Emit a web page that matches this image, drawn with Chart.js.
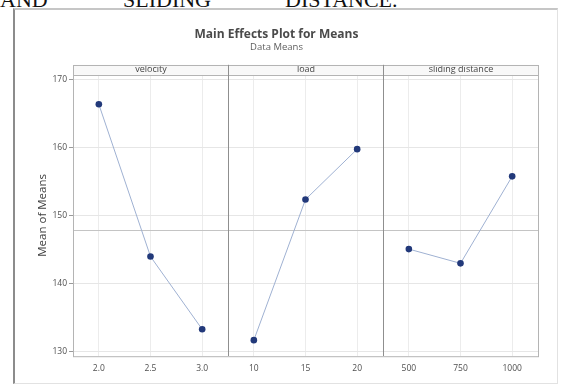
<!DOCTYPE html>
<html>
<head>
<meta charset="utf-8">
<script src="https://cdn.jsdelivr.net/npm/chart.js@4.4.1/dist/chart.umd.min.js"></script>
<style>
  body { margin: 0; background: #fff; width: 561px; height: 385px; overflow: hidden; position: relative; }
  .caption { position: absolute; top: -11px; font: 22px "Liberation Serif", serif; line-height: 22px; color: #111; white-space: nowrap; }
  #frame { position: absolute; left: 13px; top: 8px; width: 545px; height: 376px; box-sizing: border-box;
    border-left: 2px solid #8c8c8c; border-top: 2px solid #c6c6c6; border-right: 1px solid #e2e2e2; border-bottom: 1px solid #e2e2e2; }
  #wrap { position: relative; width: 542px; height: 373px; }
</style>
</head>
<body>
<div class="caption" style="left:0px">AND</div>
<div class="caption" style="left:123px">SLIDING</div>
<div class="caption" style="left:285px">DISTANCE.</div>
<div id="frame"><div id="wrap"><canvas id="myChart"></canvas></div></div>
<script>
// Data
const factorNames = ["velocity", "load", "sliding distance"];
const velocityLevels = ["2.0", "2.5", "3.0"];
const velocityMeans = [166.4, 144.0, 133.3];
const loadLevels = ["10", "15", "20"];
const loadMeans = [131.7, 152.4, 159.8];
const distanceLevels = ["500", "750", "1000"];
const distanceMeans = [145.1, 143.0, 155.8];
const yTicks = [130, 140, 150, 160, 170];

const allLevels = [...velocityLevels, ...loadLevels, ...distanceLevels];
const allMeans = [...velocityMeans, ...loadMeans, ...distanceMeans];
const grandMean = allMeans.reduce((a, b) => a + b, 0) / allMeans.length;

// each factor only has values in its own 3 slots
function panelData(values, panel) {
  return allLevels.map((_, i) => (Math.floor(i / 3) === panel ? values[i % 3] : null));
}

const font = "'Open Sans', 'Noto Sans', sans-serif";

function makeDataset(values, panel) {
  return {
    data: panelData(values, panel),
    borderColor: "#9fb1d2",
    borderWidth: 1,
    pointRadius: 3.3,
    pointHoverRadius: 3.3,
    pointBackgroundColor: "#22397a",
    pointBorderColor: "#22397a",
    pointBorderWidth: 0,
    tension: 0,
  };
}

// panels: mean line, strip headers, dividers and frame
const panelPlugin = {
  id: "panels",
  beforeDatasetsDraw(chart) {
    const { ctx, chartArea } = chart;
    const y = chart.scales.y.getPixelForValue(grandMean);
    ctx.save();
    ctx.strokeStyle = "#c4c4c4";
    ctx.lineWidth = 1;
    ctx.beginPath();
    ctx.moveTo(chartArea.left, Math.round(y) + 0.5);
    ctx.lineTo(chartArea.right, Math.round(y) + 0.5);
    ctx.stroke();
    ctx.restore();
  },
  afterDraw(chart) {
    const { ctx, chartArea } = chart;
    const x = chart.scales.x;
    const edges = [chartArea.left, x.getPixelForValue(2.5), x.getPixelForValue(5.5), chartArea.right].map((v) => Math.round(v) + 0.5);
    const stripTop = chartArea.top - 10;
    ctx.save();
    ctx.lineWidth = 1;
    // strip headers
    for (let i = 0; i < 3; i++) {
      ctx.fillStyle = "#f8f8f8";
      ctx.fillRect(edges[i], stripTop, edges[i + 1] - edges[i], 10);
      ctx.fillStyle = "#454545";
      ctx.font = "9px " + font;
      ctx.textAlign = "center";
      ctx.textBaseline = "middle";
      ctx.fillText(factorNames[i], (edges[i] + edges[i + 1]) / 2, stripTop + 5);
    }
    ctx.strokeStyle = "#b4b4b4";
    ctx.strokeRect(edges[0], Math.round(stripTop) + 0.5, edges[3] - edges[0], chartArea.bottom - stripTop);
    ctx.beginPath();
    ctx.moveTo(edges[0], Math.round(chartArea.top) + 0.5);
    ctx.lineTo(edges[3], Math.round(chartArea.top) + 0.5);
    ctx.stroke();
    ctx.strokeStyle = "#8f8f8f";
    ctx.beginPath();
    for (let i = 1; i < 3; i++) {
      ctx.moveTo(edges[i], stripTop);
      ctx.lineTo(edges[i], chartArea.bottom);
    }
    ctx.stroke();
    ctx.restore();
  },
};

const ctx = document.getElementById("myChart").getContext("2d");
new Chart(ctx, {
  type: "line",
  data: {
    labels: allLevels,
    datasets: [makeDataset(velocityMeans, 0), makeDataset(loadMeans, 1), makeDataset(distanceMeans, 2)],
  },
  options: {
    responsive: true,
    maintainAspectRatio: false,
    animation: false,
    layout: { padding: { left: 0, right: 19, top: 0, bottom: 0 } },
    plugins: {
      legend: { display: false },
      tooltip: { enabled: false },
      title: {
        display: true,
        text: "Main Effects Plot for Means",
        color: "#4a4a4a",
        font: { family: font, size: 12, weight: "bold" },
        padding: { top: 17, bottom: 0 },
      },
      subtitle: {
        display: true,
        text: "Data Means",
        color: "#5e5e5e",
        font: { family: font, size: 9.5 },
        padding: { top: 0, bottom: 22 },
      },
    },
    scales: {
      x: {
        type: "category",
        offset: true,
        grid: { offset: false, color: "#ececec", drawTicks: false },
        border: { display: false },
        ticks: { color: "#4f4f4f", font: { family: font, size: 8.5 }, padding: 7, maxRotation: 0, autoSkip: false },
        afterFit(scale) { scale.height = 27; },
      },
      y: {
        min: 129.37,
        max: 170.74,
        grid: { color: "#e6e6e6", tickLength: 4, tickColor: "#9a9a9a" },
        border: { display: false },
        afterBuildTicks(scale) { scale.ticks = yTicks.map((v) => ({ value: v })); },
        ticks: { color: "#4f4f4f", font: { family: font, size: 8.5 }, padding: 2 },
        title: {
          display: true,
          text: "Mean of Means",
          color: "#3f3f3f",
          font: { family: font, size: 11.5 },
          padding: { top: 21, bottom: 0 },
        },
        afterFit(scale) { scale.width = 58; },
      },
    },
  },
  plugins: [panelPlugin],
});
</script>
</body>
</html>
